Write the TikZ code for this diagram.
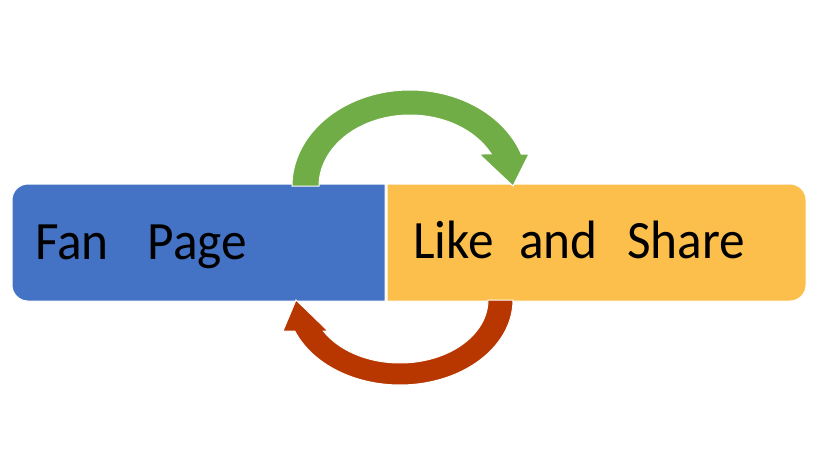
\documentclass[tikz,border=0pt]{standalone}
\usepackage{fontspec}
\setmainfont{Carlito}
\definecolor{boxblue}{HTML}{4472C4}
\definecolor{boxgold}{HTML}{FCBF4B}
\definecolor{arrgreen}{HTML}{70AD47}
\definecolor{arrred}{HTML}{B83600}
\begin{document}
\begin{tikzpicture}[x=1pt,y=-1pt,
  boxshape/.style={draw=white,line width=1pt},
  arrowshape/.style={draw=white,line width=1pt},
  label/.style={font=\fontsize{54}{60}\selectfont,text=black,inner sep=0pt,anchor=base west,xscale=0.95}]
\useasboundingbox (0,0) rectangle (834,474);
% boxes
\path[boxshape,fill=boxblue]
  (385,184) -- (28,184) .. controls (19.2,184) and (12,191.2) .. (12,200)
  -- (12,285) .. controls (12,293.8) and (19.2,301) .. (28,301)
  -- (385,301) -- cycle;
\path[boxshape,fill=boxgold]
  (387,184) -- (790,184) .. controls (798.8,184) and (806,191.2) .. (806,200)
  -- (806,285) .. controls (806,293.8) and (798.8,301) .. (790,301)
  -- (387,301) -- cycle;
\node[label] (fan) at (35,259) {Fan\hspace{41pt}Page};
\node[label] (like) at (413,258) {Like\hspace{27pt}and\hspace{31pt}Share};
% green arrow
\path[fill=arrgreen,arrowshape]
  plot[domain=180:19.47,samples=60,smooth] ({410+118*cos(\x)},{186-96*sin(\x)})
  -- (529,154) -- (513,186) -- (479,154)
  -- plot[domain=26.8:180,samples=60,smooth] ({410+91*cos(\x)},{186-71*sin(\x)})
  -- cycle;
% red arrow
\path[fill=arrred,arrowshape]
  plot[domain=0:158.6,samples=60,smooth] ({400+113*cos(\x)},{300+85*sin(\x)})
  -- (283,331) -- (296,300) -- (328,331)
  -- plot[domain=150.5:0,samples=60,smooth] ({400+88*cos(\x)},{300+63*sin(\x)})
  -- cycle;
\end{tikzpicture}
\end{document}
